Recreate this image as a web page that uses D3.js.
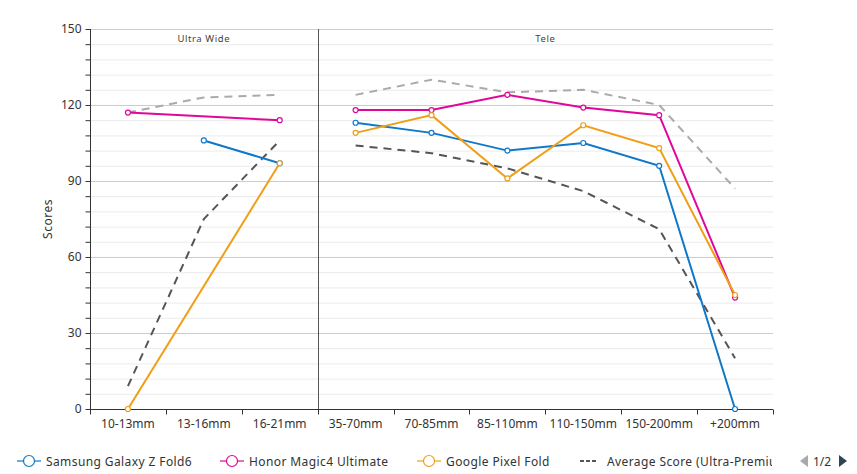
<!DOCTYPE html>
<html><head><meta charset="utf-8">
<script src="https://cdn.jsdelivr.net/npm/d3@7"></script>
<style>body{margin:0;background:#fff;font-family:"Noto Sans",sans-serif}</style>
</head><body><svg id="c" width="857" height="474"></svg>
<script>
const categories = ["10-13mm","13-16mm","16-21mm","35-70mm","70-85mm","85-110mm","110-150mm","150-200mm","+200mm"];
const groups = [{name:"Ultra Wide", from:0, to:2},{name:"Tele", from:3, to:8}];
const samsung = [null,106,97,113,109,102,105,96,0];
const honor = [117,null,114,118,118,124,119,116,44];
const pixel = [0,null,97,109,116,91,112,103,45];
const avgScore = [9,75,106,104,101,95,86,71,20];
const avgUltra = [117,123,124,124,130,125,126,120,87];
const yTicks = [0,30,60,90,120,150];

const series = [
  {name:"Samsung Galaxy Z Fold6", values:samsung, color:"#0f78c8", dash:null, marker:true, legend:true},
  {name:"Honor Magic4 Ultimate", values:honor, color:"#e0079a", dash:null, marker:true, legend:true},
  {name:"Google Pixel Fold", values:pixel, color:"#ef9e16", dash:null, marker:true, legend:true},
  {name:"Average Score (Ultra-Premium)", values:avgScore, color:"#555555", dash:"8,6", marker:false, legend:true},
  {name:"Best Score", values:avgUltra, color:"#aaaaaa", dash:"8,6", marker:false, legend:false}
];

const svg = d3.select("#c");
const L=90, R=773, T=29, B=409;
const x = d3.scaleBand().domain(categories).range([L,R]);
const y = d3.scaleLinear().domain([0,150]).range([B,T]);
const cx = c => x(c)+x.bandwidth()/2;

// grid
const minor = d3.range(0,151,6);
svg.append("g").selectAll("line").data(minor).join("line")
  .attr("x1",L).attr("x2",R).attr("y1",d=>y(d)+0.5).attr("y2",d=>y(d)+0.5)
  .attr("stroke",d=>d%30===0?"#cccccc":"#ebebeb").attr("stroke-width",1);

// group separators and labels
groups.forEach((g,i)=>{
  const x0 = x(categories[g.from]), x1 = x(categories[g.to])+x.bandwidth();
  if(i>0) svg.append("line").attr("x1",Math.round(x0)+0.5).attr("x2",Math.round(x0)+0.5).attr("y1",T).attr("y2",B)
    .attr("stroke","#555").attr("stroke-width",1);
  svg.append("text").attr("x",(x0+x1)/2).attr("y",42).attr("text-anchor","middle")
    .attr("font-size",9.5).attr("letter-spacing","0.6px").attr("fill","#444").text(g.name);
});

// y axis
const ya = svg.append("g").attr("transform",`translate(${L+0.5},0)`);
ya.append("line").attr("y1",T).attr("y2",B).attr("stroke","#333");
ya.selectAll(".mt").data(minor).join("line").attr("x1",-5).attr("x2",0)
  .attr("y1",d=>y(d)+0.5).attr("y2",d=>y(d)+0.5).attr("stroke","#333");
ya.selectAll("text").data(yTicks).join("text").attr("x",-9).attr("y",d=>y(d)+4)
  .attr("text-anchor","end").attr("font-size",12).attr("fill","#333").text(d=>d);
svg.append("text").attr("transform",`translate(52,${(T+B)/2}) rotate(-90)`)
  .attr("text-anchor","middle").attr("font-size",12).attr("fill","#333").attr("letter-spacing","0.5px").text("Scores");

// x axis
const xa = svg.append("g").attr("transform",`translate(0,${B+0.5})`);
xa.append("line").attr("x1",L).attr("x2",R).attr("stroke","#333");
const bounds = d3.range(categories.length+1).map(i=>L+i*x.step());
xa.selectAll(".tk").data(bounds).join("line").attr("x1",d=>Math.round(d)+0.5).attr("x2",d=>Math.round(d)+0.5)
  .attr("y1",0).attr("y2",5).attr("stroke","#333");
xa.selectAll("text").data(categories).join("text").attr("x",d=>cx(d)).attr("y",18)
  .attr("text-anchor","middle").attr("font-size",12).attr("fill","#333").text(d=>d);

// lines (not connected across groups)
const line = d3.line().x(d=>cx(d.c)).y(d=>y(d.v));
const order = [4,3,0,1,2];
order.forEach(i=>{
  const s = series[i];
  groups.forEach(g=>{
    const pts = categories.map((c,j)=>({c, v:s.values[j], j}))
      .filter(d=>d.j>=g.from && d.j<=g.to && d.v!==null);
    svg.append("path").datum(pts).attr("d",line).attr("fill","none")
      .attr("stroke",s.color).attr("stroke-width",2).attr("stroke-dasharray",s.dash);
    if(s.marker) svg.append("g").selectAll("circle").data(pts).join("circle")
      .attr("cx",d=>cx(d.c)).attr("cy",d=>y(d.v)).attr("r",2.5)
      .attr("fill","#fff").attr("stroke",s.color).attr("stroke-width",1.2);
  });
});

// legend
const lg = svg.append("g").attr("transform","translate(0,461)");
const lx = [17,220,417,580];
series.filter(s=>s.legend).forEach((s,i)=>{
  const g = lg.append("g").attr("transform",`translate(${lx[i]},0)`);
  if(s.marker){
    g.append("line").attr("x1",0).attr("x2",24).attr("stroke",s.color).attr("stroke-width",1.2);
    g.append("circle").attr("cx",12).attr("r",5.5).attr("fill","#fff").attr("stroke",s.color).attr("stroke-width",1.2);
  } else {
    g.append("line").attr("x1",0).attr("x2",18).attr("stroke",s.color).attr("stroke-width",2).attr("stroke-dasharray","4,2");
  }
  g.append("text").attr("x",s.marker?29:27).attr("y",4.5).attr("font-size",12).attr("fill","#333").attr("letter-spacing","0.4px").text(s.name);
});
// clip the long legend text
svg.append("rect").attr("x",772).attr("y",448).attr("width",85).attr("height",26).attr("fill","#fff");
svg.append("path").attr("d","M808,455 L800,461 L808,467 Z").attr("fill","#aaa");
svg.append("text").attr("x",813).attr("y",465.5).attr("font-size",12).attr("fill","#333").text("1/2");
svg.append("path").attr("d","M839,455 L847,461 L839,467 Z").attr("fill","#2f4554");
</script></body></html>
